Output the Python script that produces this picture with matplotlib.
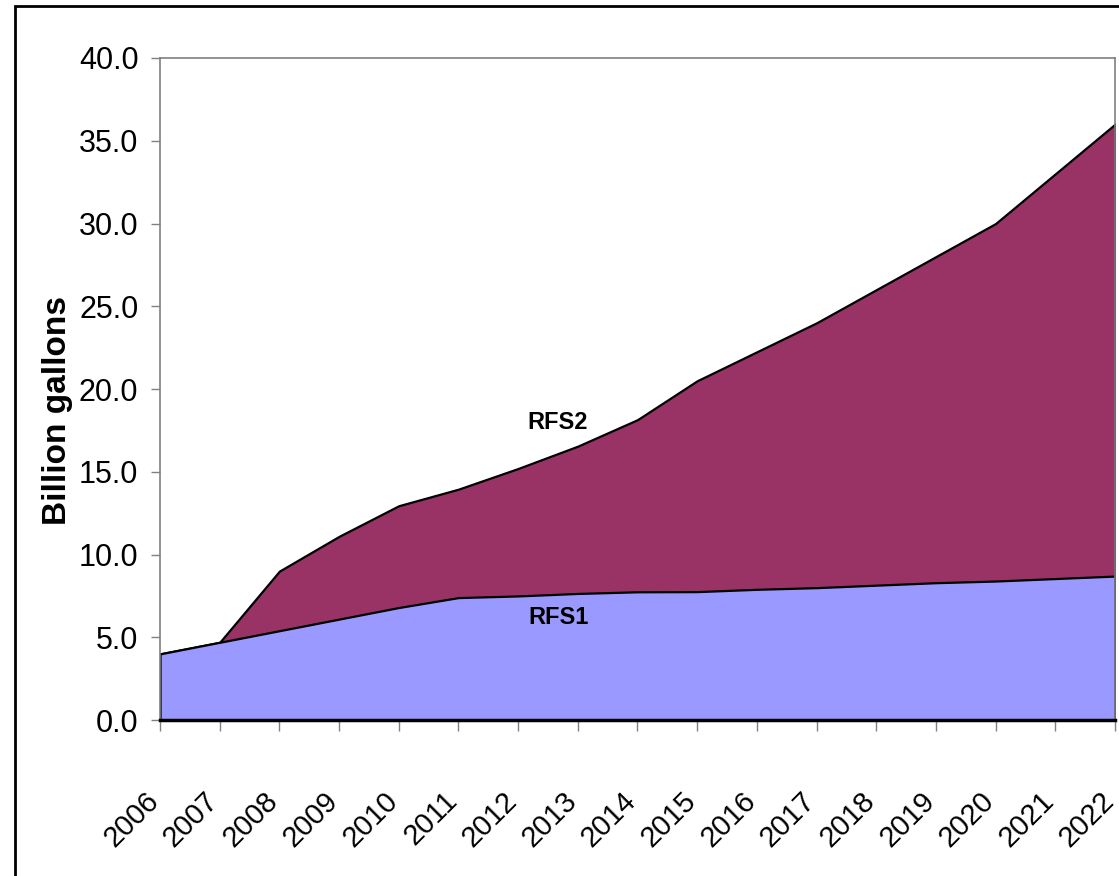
import matplotlib
matplotlib.use("Agg")
import matplotlib.pyplot as plt
from matplotlib.patches import Rectangle

plt.rcParams['font.family'] = ['Liberation Sans', 'DejaVu Sans']

# data (billion gallons)
years = list(range(2006, 2023))
rfs1 = [4.0, 4.7, 5.4, 6.1, 6.8, 7.4, 7.5, 7.65, 7.75, 7.76, 7.9, 8.0, 8.15, 8.3, 8.4, 8.55, 8.7]
rfs2 = [4.0, 4.7, 9.0, 11.1, 12.95, 13.95, 15.2, 16.55, 18.15, 20.5, 22.25, 24.0, 26.0, 28.0, 30.0, 33.0, 36.0]
yticks = [0, 5, 10, 15, 20, 25, 30, 35, 40]

fig = plt.figure(figsize=(11.19, 8.76), dpi=100)
ax = fig.add_axes([0.143, 0.178, 0.8534, 0.7558])

# RFS2 drawn behind, RFS1 in front (plain overlapping area chart)
ax.fill_between(years, 0, rfs2, facecolor='#993366', edgecolor='black', linewidth=1.6)
ax.fill_between(years, 0, rfs1, facecolor='#9999FF', edgecolor='black', linewidth=1.6)

ax.set_xlim(2006, 2022)
ax.set_ylim(0, 40)
ax.set_yticks(yticks)
ax.set_yticklabels([f"{v:.1f}" for v in yticks], fontsize=22)
ax.set_xticks(years)
ax.set_xticklabels([str(y) for y in years], fontsize=21, rotation=45,
                   ha='right', va='baseline', rotation_mode='anchor')

for side in ['left', 'top', 'right']:
    ax.spines[side].set_color('#808080')
    ax.spines[side].set_linewidth(1.2)
ax.spines['bottom'].set_color('black')
ax.spines['bottom'].set_linewidth(2.5)
ax.tick_params(axis='y', direction='out', length=6.5, width=1, color='#808080', pad=9)
ax.tick_params(axis='x', direction='out', length=8, width=1, color='#808080', pad=51)

ax.set_ylabel('Billion gallons', fontsize=24, fontweight='bold')
ax.yaxis.set_label_coords(-0.091, 0.468)

ax.text(2012.67, 18.0, 'RFS2', fontsize=17, fontweight='bold', ha='center', va='center')
ax.text(2012.67, 6.22, 'RFS1', fontsize=17, fontweight='bold', ha='center', va='center')

# outer chart frame (runs off the right and bottom edges)
fig.add_artist(Rectangle((0.0134, -0.1), 1.2, 1.0932, transform=fig.transFigure,
                         fill=False, edgecolor='black', linewidth=2, clip_on=False))

fig.savefig('out.png', dpi=100)
